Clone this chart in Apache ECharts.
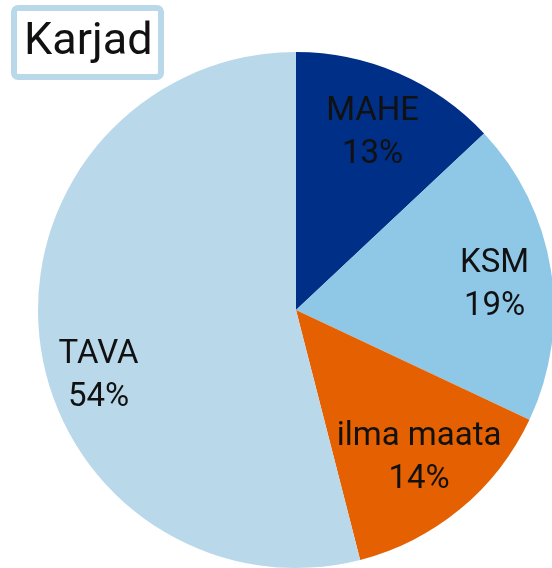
<!DOCTYPE html>
<html>
<head>
<meta charset="utf-8">
<script src="https://cdn.jsdelivr.net/npm/echarts@6/dist/echarts.min.js"></script>
<style>
  html, body { margin: 0; padding: 0; background: #fff; }
  #chart { width: 552px; height: 568px; }
</style>
</head>
<body>
<div id="chart"></div>
<script>
const titleText = 'Karjad'
const categories = ['MAHE', 'KSM', 'ilma maata', 'TAVA']
const shares = [13, 19, 14, 54]
const colors = ['#002f87', '#8fc7e6', '#e46000', '#b9d9eb']

const chart = echarts.init(document.getElementById('chart'))

const pieData = categories.map((name, i) => ({
  name: name,
  value: shares[i],
  itemStyle: { color: colors[i] },
}))

// transparent ring only used to push the labels further out than the default inside spot
const labelData = categories.map((name, i) => {
  const item = { name: name, value: shares[i] }
  if (name === 'TAVA') {
    item.label = { offset: [-6, 42] }
  }
  if (name === 'KSM') {
    item.label = { offset: [8, 5] }
  }
  return item
})

chart.setOption({
  animation: false,
  title: {
    text: titleText,
    left: 14,
    top: 8,
    padding: [9, 9, 8, 10],
    borderColor: '#b9d9eb',
    borderWidth: 6,
    borderRadius: 4,
    backgroundColor: '#fff',
    textStyle: {
      fontFamily: 'Roboto',
      fontWeight: 'normal',
      fontSize: 45,
      lineHeight: 52,
      color: '#111',
    },
  },
  series: [{
    type: 'pie',
    center: [296, 310],
    radius: [0, 258],
    startAngle: 90,
    clockwise: true,
    silent: true,
    label: { show: false },
    labelLine: { show: false },
    data: pieData,
  }, {
    type: 'pie',
    center: [296, 310],
    radius: [122, 258],
    startAngle: 90,
    clockwise: true,
    silent: true,
    itemStyle: { color: 'transparent' },
    label: {
      show: true,
      position: 'inside',
      formatter: p => p.name + '\n' + p.value + '%',
      fontFamily: 'Roboto',
      fontSize: 33,
      lineHeight: 43,
      color: '#111',
    },
    labelLine: { show: false },
    data: labelData,
  }],
})
</script>
</body>
</html>
